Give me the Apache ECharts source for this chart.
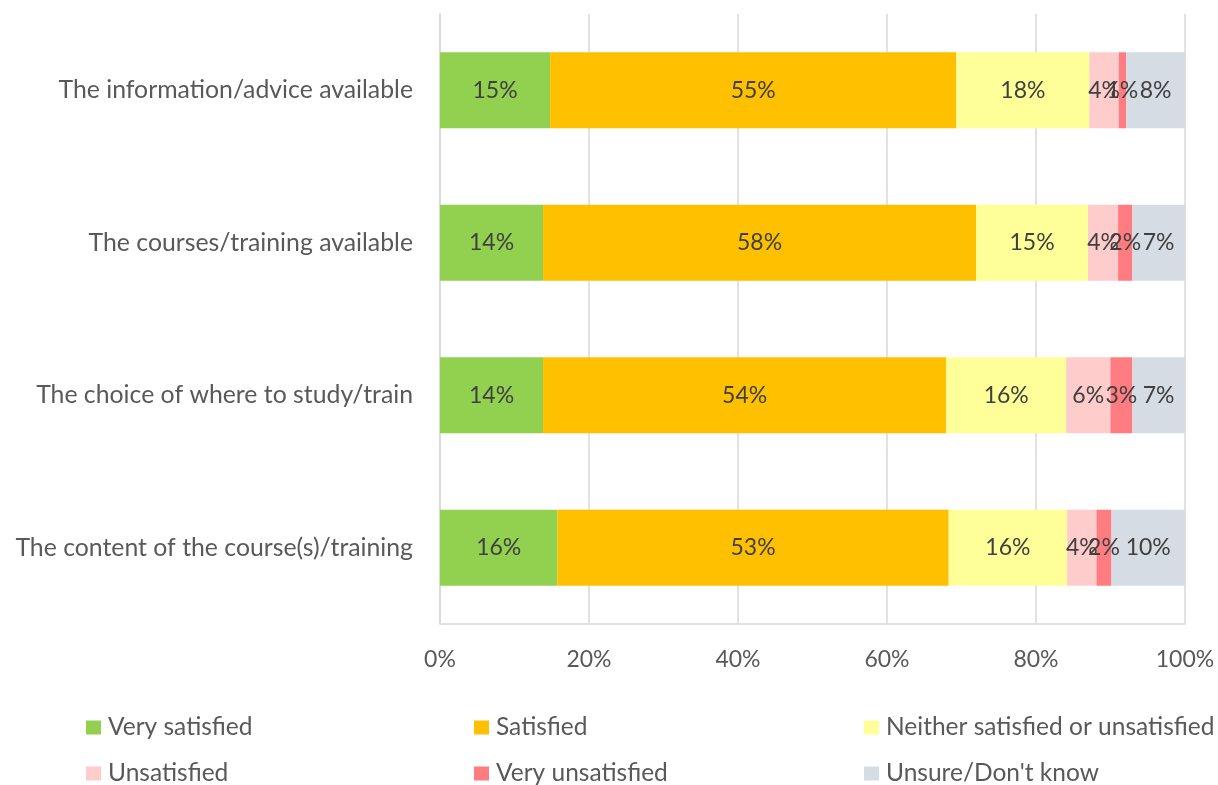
<!DOCTYPE html>
<html>
<head>
<meta charset="utf-8">
<script src="https://cdn.jsdelivr.net/npm/echarts@6/dist/echarts.min.js"></script>
<style>
html,body{margin:0;padding:0;background:#fff;}
#chart{width:1218px;height:785px;}
</style>
</head>
<body>
<div id="chart"></div>
<script>
var categories = [
  "The information/advice available",
  "The courses/training available",
  "The choice of where to study/train",
  "The content of the course(s)/training"
];
var seriesNames = [
  "Very satisfied",
  "Satisfied",
  "Neither satisfied or unsatisfied",
  "Unsatisfied",
  "Very unsatisfied",
  "Unsure/Don't know"
];
var verySatisfied = [14.78, 13.83, 13.83, 15.76];
var satisfied     = [54.53, 58.12, 54.13, 52.52];
var neither       = [17.86, 15.04, 16.08, 15.90];
var unsatisfied   = [3.94, 4.03, 5.95, 3.94];
var veryUnsat     = [0.98, 1.92, 2.95, 2.01];
var unsure        = [7.95, 7.05, 7.05, 9.87];
var xTicks = [0, 20, 40, 60, 80, 100];
var colors = ["#92D050", "#FFC000", "#FFFF99", "#FFCCCC", "#FF7C80", "#D6DCE4"];

var allValues = [verySatisfied, satisfied, neither, unsatisfied, veryUnsat, unsure];
var FONT = "Lato";

var series = allValues.map(function (vals, i) {
  return {
    name: seriesNames[i],
    type: "bar",
    stack: "total",
    barWidth: 76,
    data: vals,
    itemStyle: { color: colors[i] },
    label: {
      show: true,
      position: "inside",
      color: "#404040",
      fontFamily: FONT,
      fontSize: 23,
      formatter: function (p) { return Math.round(p.value) + "%"; }
    },
    emphasis: { disabled: true }
  };
});

// legend: 3 columns x 2 rows, one legend component per entry
var legendLefts = [86, 474, 864];
var legendTops = [715, 761];
var legends = seriesNames.map(function (name, i) {
  var col = i % 3, row = Math.floor(i / 3);
  return {
    left: legendLefts[col],
    top: legendTops[row],
    padding: 0,
    itemWidth: 15,
    itemHeight: 14,
    icon: "rect",
    data: [name],
    selectedMode: false,
    textStyle: { color: "#595959", fontFamily: FONT, fontSize: 24.5, padding: [0, 0, 0, 2] }
  };
});

var chart = echarts.init(document.getElementById("chart"));
chart.setOption({
  animation: false,
  backgroundColor: "#fff",
  grid: { left: 440, right: 33, top: 14, bottom: 161, containLabel: false },
  legend: legends,
  xAxis: {
    type: "value",
    min: xTicks[0],
    max: xTicks[xTicks.length - 1],
    interval: xTicks[1] - xTicks[0],
    axisLine: { show: true, lineStyle: { color: "#D9D9D9", width: 1.5 } },
    axisTick: { show: false },
    splitLine: { show: true, lineStyle: { color: "#D9D9D9", width: 1.5 } },
    axisLabel: {
      margin: 24,
      color: "#595959",
      fontFamily: FONT,
      fontSize: 23,
      formatter: function (v) { return v + "%"; }
    }
  },
  yAxis: {
    type: "category",
    inverse: true,
    data: categories,
    axisLine: { show: true, lineStyle: { color: "#D9D9D9", width: 1.5 } },
    axisTick: { show: false },
    axisLabel: {
      margin: 27,
      color: "#595959",
      fontFamily: FONT,
      fontSize: 24.8
    }
  },
  series: series
});
</script>
</body>
</html>
